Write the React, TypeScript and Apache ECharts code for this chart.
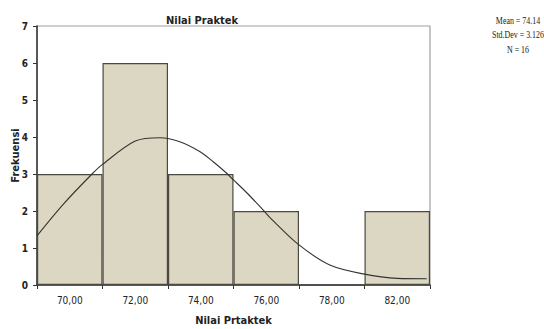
import React, { useEffect, useRef } from "react";
import * as echarts from "echarts";

const categories = ["70,00", "72,00", "74,00", "76,00", "78,00", "82,00"];
const frequencies = [3, 6, 3, 2, 0, 2];
// normal curve: [position in bin units, frequency]
const curvePoints: [number, number][] = [
  [0, 1.33], [0.4, 2.18], [0.84, 3.0], [1.0, 3.26], [1.5, 3.89], [1.88, 3.98],
  [2.18, 3.87], [2.49, 3.6], [2.69, 3.33], [2.87, 3.06], [3.0, 2.84],
  [3.21, 2.48], [3.45, 2.03], [3.58, 1.78], [3.98, 1.11], [4.47, 0.54],
  [4.98, 0.3], [5.5, 0.18], [5.95, 0.17],
];
const statsLines = ["Mean = 74.14", "Std.Dev = 3.126", "N = 16"];
const titleText = "Nilai Praktek";
const xName = "Nilai Prtaktek";
const yName = "Frekuensi";

const FONT = "'DejaVu Sans Condensed', 'DejaVu Sans', sans-serif";

export default function App() {
  const ref = useRef<HTMLDivElement>(null);
  useEffect(() => {
    document.body.style.margin = "0";
    const chart = echarts.init(ref.current!, null, { renderer: "svg" });
    chart.setOption({
      animation: false,
      backgroundColor: "#ffffff",
      grid: {
        left: 37, top: 26, right: 114, bottom: 44,
        containLabel: false,
        outerBoundsMode: "none",
        show: true, borderColor: "#a0a0a0", borderWidth: 1.2,
      },
      xAxis: [
        {
          type: "category",
          data: categories,
          boundaryGap: true,
          name: xName,
          nameLocation: "middle",
          nameGap: 30,
          nameTextStyle: { fontFamily: FONT, fontSize: 11, fontWeight: "bold", color: "#222" },
          axisLine: { lineStyle: { color: "#333", width: 1.5 } },
          axisTick: { show: true, length: 4, interval: 0, lineStyle: { color: "#333" } },
          axisLabel: { margin: 10, fontFamily: FONT, fontSize: 10, color: "#222", interval: 0 },
          splitLine: { show: false },
        },
        {
          type: "value",
          min: 0,
          max: 6,
          show: false,
        },
      ],
      yAxis: {
        type: "value",
        min: 0,
        max: 7,
        interval: 1,
        name: yName,
        nameLocation: "middle",
        nameGap: 16,
        nameMoveOverlap: false,
        nameTextStyle: { fontFamily: FONT, fontSize: 11, fontWeight: "bold", color: "#222" },
        axisLine: { show: true, lineStyle: { color: "#333", width: 1.5 } },
        axisTick: { show: true, length: 4, lineStyle: { color: "#333" } },
        axisLabel: { margin: 9, fontFamily: FONT, fontSize: 10, fontWeight: "bold", color: "#222" },
        splitLine: { show: false },
      },
      series: [
        {
          type: "bar",
          xAxisIndex: 0,
          data: frequencies,
          barCategoryGap: "0%",
          itemStyle: { color: "#dcd7c2", borderColor: "#4a4a40", borderWidth: 1.2 },
        },
        {
          type: "line",
          xAxisIndex: 1,
          data: curvePoints,
          smooth: 0.3,
          showSymbol: false,
          lineStyle: { color: "#333", width: 1.1 },
          z: 5,
        },
      ],
      graphic: [
        {
          type: "text",
          x: 202, y: 20,
          style: {
            text: titleText, fontFamily: FONT, fontSize: 11, fontWeight: "bold",
            fill: "#222", textAlign: "center", textVerticalAlign: "middle",
          },
        },
        ...statsLines.map((t, i) => ({
          type: "text",
          x: 518, y: [20, 34, 49][i],
          scaleX: 0.72,
          style: {
            text: t, fontFamily: "'Liberation Serif', 'DejaVu Serif', serif", fontSize: 11,
            fill: "#222", textAlign: "center", textVerticalAlign: "middle",
          },
        })),
      ],
    });
    return () => chart.dispose();
  }, []);
  return <div ref={ref} style={{ width: 544, height: 329 }} />;
}
